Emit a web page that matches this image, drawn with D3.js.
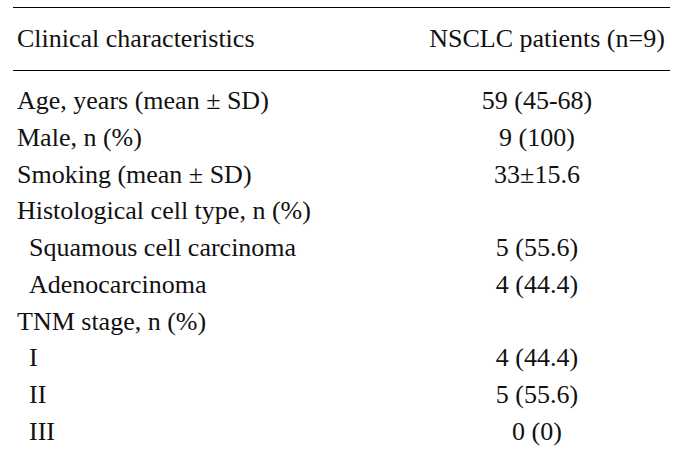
<!DOCTYPE html>
<html><head><meta charset="utf-8">
<script src="https://cdn.jsdelivr.net/npm/d3@7"></script>
<style>html,body{margin:0;padding:0;background:#fff;}</style>
</head><body>
<svg id="t" width="684" height="449"></svg>
<script>
const headers = ["Clinical characteristics", "NSCLC patients (n=9)"];
const labels = ["Age, years (mean \u00b1 SD)", "Male, n (%)", "Smoking (mean \u00b1 SD)", "Histological cell type, n (%)",
  "Squamous cell carcinoma", "Adenocarcinoma", "TNM stage, n (%)", "I", "II", "III"];
const indent = [0,0,0,0,1,1,0,1,1,1];
const values = ["59 (45-68)", "9 (100)", "33\u00b115.6", "", "5 (55.6)", "4 (44.4)", "", "4 (44.4)", "5 (55.6)", "0 (0)"];

const svg = d3.select("#t");
const font = "'Liberation Serif','Times New Roman',serif";
const fs = 26;
const y = d3.scalePoint().domain(d3.range(labels.length)).range([109, 440]);
const x = d3.scaleLinear().domain([0, 1]).range([13, 670]);

svg.append("line").attr("x1", x(0)).attr("x2", x(1)).attr("y1", 7.5).attr("y2", 7.5).attr("stroke", "#000").attr("stroke-width", 1);
svg.append("line").attr("x1", x(0)).attr("x2", x(1)).attr("y1", 70.5).attr("y2", 70.5).attr("stroke", "#000").attr("stroke-width", 1);

svg.append("text").attr("x", 17).attr("y", 47).attr("font-family", font).attr("font-size", fs).attr("fill", "#111").text(headers[0]);
svg.append("text").attr("x", 547).attr("y", 47).attr("text-anchor", "middle").attr("font-family", font).attr("font-size", fs).attr("fill", "#111").text(headers[1]);

const rows = svg.selectAll("g.row").data(labels).join("g").attr("class", "row");
rows.append("text").attr("x", (d, i) => indent[i] ? 29 : 17).attr("y", (d, i) => y(i))
  .attr("font-family", font).attr("font-size", fs).attr("fill", "#111").text(d => d);
rows.append("text").attr("x", 537).attr("y", (d, i) => y(i)).attr("text-anchor", "middle")
  .attr("font-family", font).attr("font-size", fs).attr("fill", "#111").text((d, i) => values[i]);
</script>
</body></html>
